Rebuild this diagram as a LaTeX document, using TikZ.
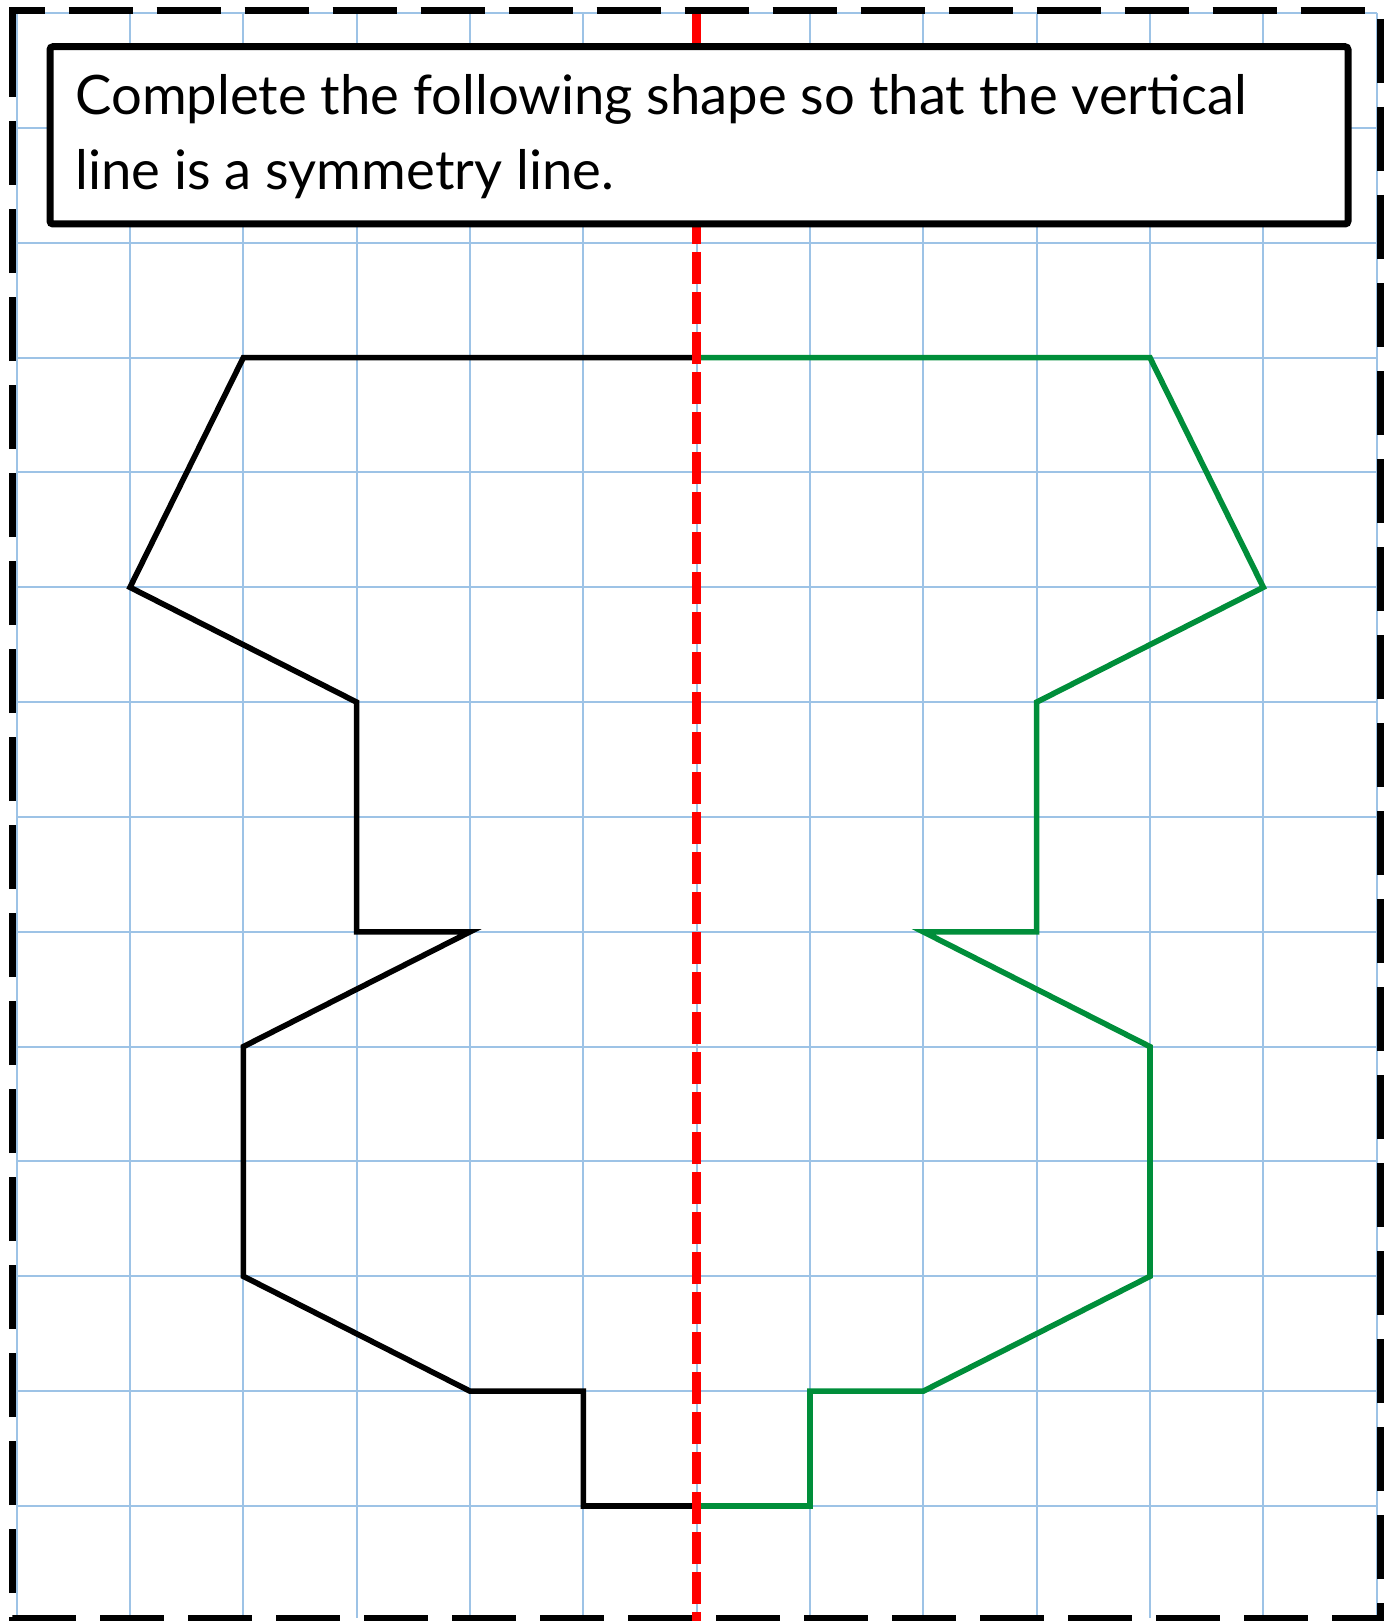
\documentclass[tikz,border=0pt]{standalone}
\usepackage{fontspec}
\newfontfamily\gillfont{Lato}
\definecolor{gridblue}{RGB}{157,195,230}
\definecolor{mirrorgreen}{RGB}{0,142,58}
\definecolor{symred}{RGB}{255,0,0}
\tikzset{
  gridline/.style={draw=gridblue, line width=1pt},
  halfshape/.style={line width=2.8pt, line join=miter},
  symline/.style={draw=symred, line width=4.35pt, dash pattern=on 16pt off 4pt},
  outerframe/.style={draw=black, line width=3.5pt, dash pattern=on 32pt off 12pt},
  taskbox/.style={draw=black, fill=white, line width=3.5pt, rounded corners=1.5pt},
  tasktext/.style={font=\gillfont\fontsize{27.2}{32}\selectfont, inner sep=0pt, anchor=base west}
}
\begin{document}
\begin{tikzpicture}[x=0.5pt,y=-0.5pt]
\useasboundingbox (0,0) rectangle (1393,1621);
% grid
\begin{scope}
\foreach \i in {-1,...,11}{
  \draw[gridline] ({130+113.33*\i},13) -- ({130+113.33*\i},1618);
}
\foreach \j in {-1,...,12}{
  \draw[gridline] (16.6,{128+114.83*\j}) -- (1376.6,{128+114.83*\j});
}
\end{scope}
% shapes in grid units
\begin{scope}[shift={(130,128)}]
\begin{scope}[x=56.665pt,y=-57.415pt]
\draw[halfshape, draw=black] (5,2) -- (1,2) -- (0,4) -- (2,5) -- (2,7) -- (3,7) -- (1,8) -- (1,10) -- (3,11) -- (4,11) -- (4,12) -- (5,12);
\draw[halfshape, draw=mirrorgreen] (5,2) -- (9,2) -- (10,4) -- (8,5) -- (8,7) -- (7,7) -- (9,8) -- (9,10) -- (7,11) -- (6,11) -- (6,12) -- (5,12);
\end{scope}
\end{scope}
\coordinate (rtop) at (696.6,12);
\coordinate (rbot) at (696.6,1621);
\draw[symline] (rtop) -- (rbot);
% task box
\draw[taskbox] (50,46.7) rectangle (1348,224);
\node[tasktext] (t1) at (75,115) {Complete the following shape so that the vertical};
\node[tasktext] (t2) at (75,190) {line is a symmetry line.};
% outer frame
\draw[outerframe] (12.5,43) -- (12.5,11) -- (1380.5,11) -- (1380.5,1618) -- (12.5,1618) -- cycle;
\end{tikzpicture}
\end{document}
